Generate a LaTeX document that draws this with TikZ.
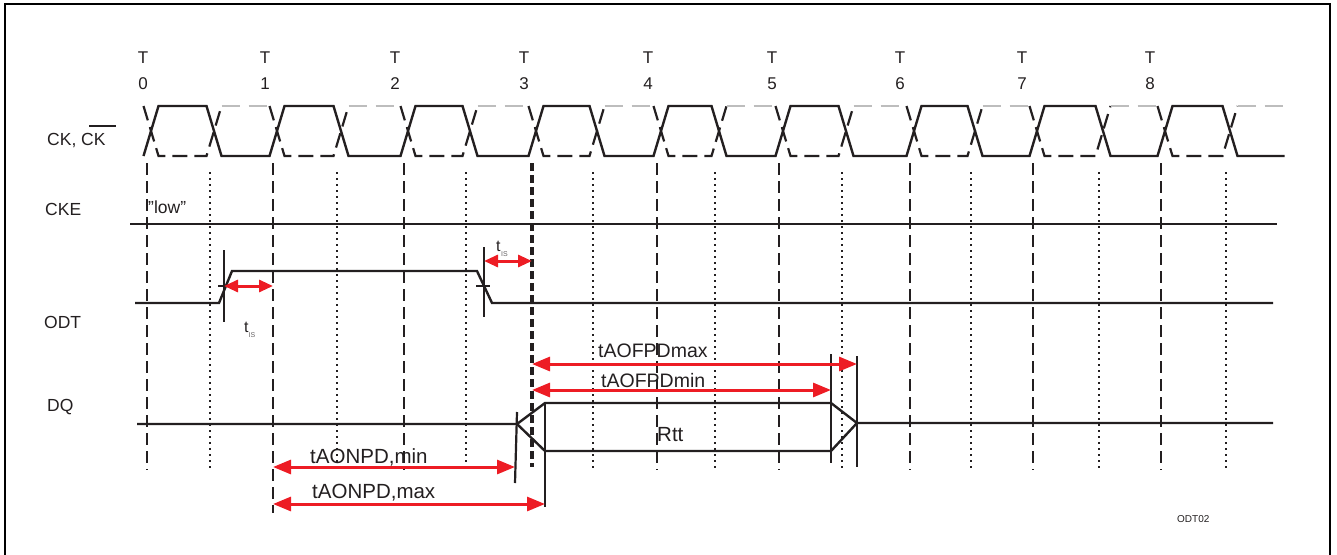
\documentclass[tikz,border=0pt]{standalone}
\usepackage{fontspec}
\setmainfont{Liberation Sans}
\usetikzlibrary{arrows.meta}
\definecolor{odtred}{HTML}{ED1C24}
\definecolor{ink}{HTML}{231F20}
\definecolor{lightdash}{HTML}{BDBDBD}
\begin{document}
\begin{tikzpicture}[x=1pt,y=-1pt,line join=miter,
  sig/.style={line width=2.4pt,draw=ink},
  ckbar/.style={line width=2.2pt,draw=ink,dash pattern=on 15pt off 7pt},
  ckbarhi/.style={line width=1.6pt,draw=lightdash,dash pattern=on 18pt off 9pt},
  tline/.style={line width=2pt,draw=ink,dash pattern=on 12pt off 6pt},
  tthick/.style={line width=4pt,draw=ink,dash pattern=on 8pt off 4pt},
  hline/.style={line width=2pt,draw=ink,dash pattern=on 2pt off 4pt},
  tick/.style={line width=2.2pt,draw=ink},
  meas/.style={line width=3pt,draw=odtred,{Triangle[length=18pt,width=14pt]}-{Triangle[length=18pt,width=14pt]}},
  meassm/.style={line width=3pt,draw=odtred,{Triangle[length=14pt,width=12pt]}-{Triangle[length=14pt,width=12pt]}},
  lbl/.style={inner sep=0pt,anchor=base west,text=ink,font=\fontsize{17.5}{20}\selectfont},
  tlbl/.style={inner sep=0pt,anchor=base,text=ink,font=\fontsize{17}{20}\selectfont},
  big/.style={inner sep=0pt,anchor=base west,text=ink,font=\fontsize{20.5}{24}\selectfont},
  tis/.style={inner sep=0pt,anchor=base west,text=ink,font=\fontsize{16}{18}\selectfont},
  sub/.style={inner sep=0pt,anchor=base west,text=ink!70,font=\fontsize{7}{8}\selectfont},
]
\useasboundingbox (0,0) rectangle (1337,554);
\draw[line width=1.5pt,draw=black] (5,560) -- (5,4) -- (1330,4) -- (1330,560);

% clock edge labels
\foreach \x/\n in {143/0,265/1,395/2,524/3,648/4,772/5,900/6,1022/7,1150/8}{
  \node[tlbl] (T\n) at (\x,63) {T};
  \node[tlbl] (N\n) at (\x,89) {\n};
}

% vertical reference lines
\foreach \x in {147,404,657,779,910,1033,1161}{
  \draw[tline] (\x,163) -- (\x,470);
}
\draw[tline] (273,163) -- (273,513);
\draw[tthick] (532,163) -- (532,467);
\foreach \x in {210,337,466,593,715,842,971,1099,1226}{
  \draw[hline] (\x,172) -- (\x,470);
}

% CK / CK# waveforms
\foreach \t/\h/\n in {147/210/273,273/337/404,404/466/532,532/593/657,657/715/779,779/842/910,910/971/1033,1033/1099/1161,1161/1226/1288}{
  \draw[ckbar] (\t-3.5,106) -- (\t+11.5,156) -- (\h-3.5,156) -- (\h+11.5,106);
  \draw[ckbarhi] (\h+11.5,106) -- (\n-5,106);
}
\draw[sig] (143.5,156) foreach \t/\h/\n in {147/210/273,273/337/404,404/466/532,532/593/657,657/715/779,779/842/910,910/971/1033,1033/1099/1161,1161/1226/1288}{ -- (\t+11.5,106) -- (\h-3.5,106) -- (\h+11.5,156) -- (\n-3.5,156) };

% signal names
\node[lbl] (ck) at (47,145) {CK, CK};
\draw[line width=1.4pt,draw=ink] (89,126) -- (116,126);
\node[lbl] (cke) at (45,215) {CKE};
\node[lbl] (odt) at (44,328) {ODT};
\node[lbl] (dq) at (47,411) {DQ};
\node[lbl] (low) at (148,213) {\symbol{34}low\symbol{34}};

% CKE
\draw[sig] (130,224) -- (1277,224);

% ODT
\draw[sig] (135,303) -- (219,303) -- (232,271) -- (477,271) -- (492,303) -- (1273,303);
\coordinate (odtOn) at (224,286);
\coordinate (odtOff) at (484,261);
\coordinate (t1a) at (273,286);
\coordinate (t3a) at (532,261);
\draw[tick] (224,250) -- (224,322);
\draw[tick] (218,286) -- (232,286);
\draw[tick] (484,247) -- (484,317);
\draw[tick] (476,286) -- (490,286);
\draw[meassm] (odtOn) -- (t1a);
\draw[meassm] (odtOff) -- (t3a);
\node[tis] (tis1) at (244,332) {t};
\node[sub] (tis1s) at (248.5,337) {IS};
\node[tis] (tis2) at (496,251) {t};
\node[sub] (tis2s) at (501,256) {IS};

% DQ
\draw[sig] (137,424) -- (517,424) -- (545,403) -- (831,403) -- (857,423) -- (1273,423);
\draw[sig] (517,424) -- (545,451) -- (831,451) -- (857,423);
\draw[tick] (517,412) -- (515,483);
\draw[tick] (545,403) -- (545,507);
\draw[tick] (831,354) -- (831,463);
\draw[tick] (857,356) -- (857,467);
\node[big] (rtt) at (657,441) {Rtt};

% timing measurements
\coordinate (offS1) at (532,364);
\coordinate (offE1) at (857,364);
\coordinate (offS2) at (532,390);
\coordinate (offE2) at (831,390);
\coordinate (onS1) at (273,467);
\coordinate (onE1) at (515,467);
\coordinate (onS2) at (273,504);
\coordinate (onE2) at (545,504);
\draw[meas] (offS1) -- (offE1);
\draw[meas] (offS2) -- (offE2);
\draw[meas] (onS1) -- (onE1);
\draw[meas] (onS2) -- (onE2);
\node[big,font=\fontsize{19.5}{22}\selectfont] (aofmax) at (598,357) {tAOFPDmax};
\node[big,font=\fontsize{19.5}{22}\selectfont] (aofmin) at (601,387) {tAOFPDmin};
\node[big] (aonmin) at (310,463) {tAONPD,min};
\node[big] (aonmax) at (312,498) {tAONPD,max};

\node[inner sep=0pt,anchor=base west,text=ink,font=\fontsize{10}{12}\selectfont] (fig) at (1177,522) {ODT02};
\end{tikzpicture}
\end{document}
